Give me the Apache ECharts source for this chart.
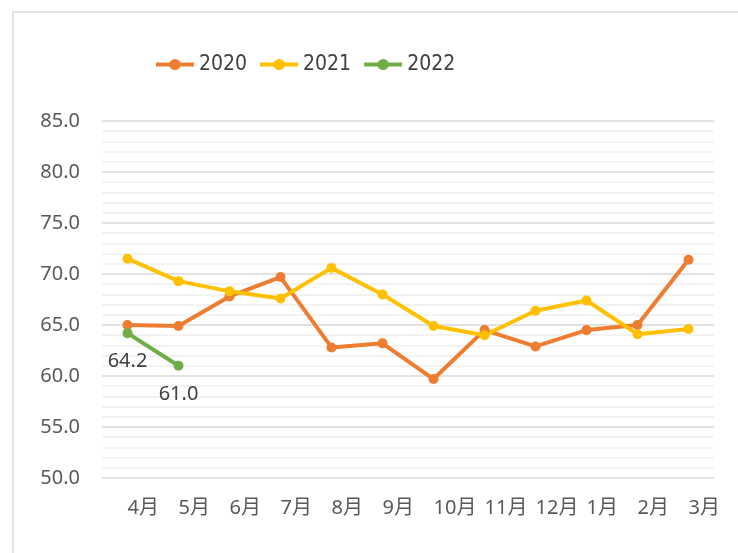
<!DOCTYPE html>
<html>
<head>
<meta charset="utf-8">
<title>月度指数</title>
<script src="https://cdn.jsdelivr.net/npm/echarts@6/dist/echarts.min.js"></script>
<style>
  html, body { margin: 0; padding: 0; background: #fff; }
  #chart { width: 738px; height: 553px; }
</style>
</head>
<body>
<div id="chart"></div>
<script>
// 月份（4月起到次年3月）
const months = ['4月', '5月', '6月', '7月', '8月', '9月', '10月', '11月', '12月', '1月', '2月', '3月'];
const data2020 = [65.0, 64.9, 67.8, 69.7, 62.8, 63.2, 59.7, 64.5, 62.9, 64.5, 65.0, 71.4];
const data2021 = [71.5, 69.3, 68.3, 67.6, 70.6, 68.0, 64.9, 64.0, 66.4, 67.4, 64.1, 64.6];
const data2022 = [64.2, 61.0];

const textColor = '#595959';
const fontFamily = "'Noto Sans', 'Noto Sans CJK SC', sans-serif";
const narrowFont = "'Liberation Sans Narrow', 'DejaVu Sans Condensed', 'Noto Sans', sans-serif";

const chart = echarts.init(document.getElementById('chart'));

function lineSeries(name, color, data) {
  return {
    name: name,
    type: 'line',
    data: data,
    symbol: 'circle',
    symbolSize: 10,
    color: color,
    lineStyle: { width: 4, color: color },
    itemStyle: { color: color }
  };
}

const s2022 = lineSeries('2022', '#70AD47', data2022);
s2022.label = {
  show: true,
  position: 'bottom',
  distance: 13,
  formatter: p => p.value.toFixed(1),
  color: '#404040',
  fontSize: 20,
  fontFamily: fontFamily
};

const option = {
  backgroundColor: '#fff',
  animation: false,
  graphic: [{
    type: 'rect',
    shape: { x: 13, y: 12, width: 800, height: 600 },
    style: { fill: 'none', stroke: '#d9d9d9', lineWidth: 1.5 },
    silent: true
  }],
  legend: {
    left: 149,
    top: 49,
    itemWidth: 38,
    itemHeight: 14,
    itemGap: 11,
    lineStyle: { width: 4 },
    textStyle: { color: '#404040', fontSize: 21, fontFamily: narrowFont },
    data: ['2020', '2021', '2022']
  },
  grid: {
    left: 102,
    right: 24,
    top: 121,
    bottom: 75
  },
  xAxis: {
    type: 'category',
    data: months,
    boundaryGap: true,
    axisLine: { show: false },
    axisTick: { show: false },
    axisLabel: {
      interval: 0,
      align: 'left',
      margin: 20,
      color: textColor,
      fontSize: 20,
      fontFamily: fontFamily
    }
  },
  yAxis: {
    type: 'value',
    min: 50,
    max: 85,
    interval: 5,
    axisLine: { show: false },
    axisTick: { show: false },
    axisLabel: {
      margin: 22,
      color: textColor,
      fontSize: 20,
      fontFamily: fontFamily,
      formatter: v => v.toFixed(1)
    },
    splitLine: { lineStyle: { color: '#d9d9d9', width: 1.5 } },
    minorTick: { show: false, splitNumber: 5 },
    minorSplitLine: { show: true, lineStyle: { color: '#efefef', width: 1.5 } }
  },
  series: [
    lineSeries('2020', '#ED7D31', data2020),
    lineSeries('2021', '#FFC000', data2021),
    s2022
  ]
};

chart.setOption(option);
</script>
</body>
</html>
